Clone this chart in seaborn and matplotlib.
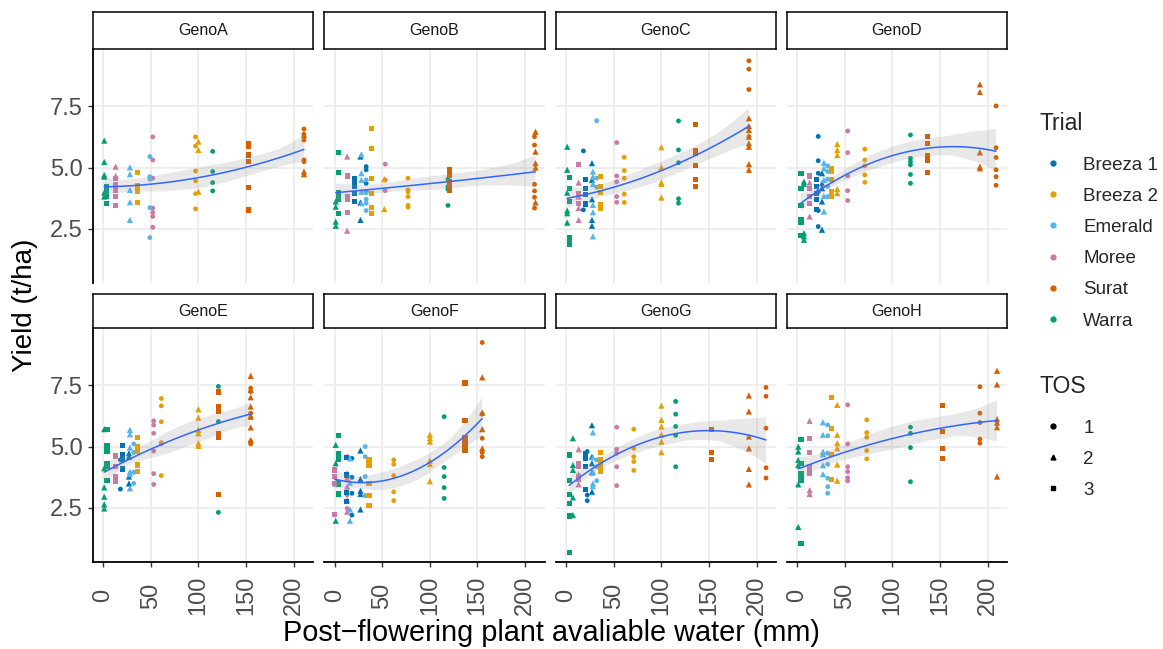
import numpy as np
import pandas as pd
import matplotlib
matplotlib.use("Agg")
import matplotlib.pyplot as plt
import seaborn as sns
from matplotlib.lines import Line2D

# ---------------- data ----------------
genotypes = ["GenoA", "GenoB", "GenoC", "GenoD", "GenoE", "GenoF", "GenoG", "GenoH"]
trials = ["Breeza 1", "Breeza 2", "Emerald", "Moree", "Surat", "Warra"]
tos_levels = [1, 2, 3]
trial_colors = ["#0072B2", "#E69F00", "#56B4E9", "#CC79A7", "#D55E00", "#009E73"]
x_ticks = [0, 50, 100, 150, 200]
y_ticks = [2.5, 5.0, 7.5]
y_tick_labels = ["2.5", "5.0", "7.5"]

# each entry: (trial, TOS, post-flowering water (mm), yields (t/ha))
genoA = [
    ("Warra", 2, 1, [6.10, 5.23, 4.70, 4.63, 3.98, 3.82]),
    ("Warra", 3, 3, [4.23, 4.02, 3.82, 3.55]),
    ("Warra", 1, 115, [5.66, 4.84, 4.39, 4.05]),
    ("Moree", 2, 13, [5.04, 4.66]),
    ("Moree", 3, 13, [4.57, 4.30, 4.09, 3.82, 3.44]),
    ("Moree", 1, 52, [6.25, 5.31, 4.57, 3.35, 3.17, 3.01, 2.57]),
    ("Emerald", 2, 28, [5.01, 4.73, 4.09, 3.59, 2.87]),
    ("Emerald", 1, 49, [5.45, 4.63, 4.53, 3.37, 2.15]),
    ("Breeza 2", 3, 36, [4.80, 4.25, 4.05, 3.58]),
    ("Breeza 2", 1, 97, [6.25, 5.88, 4.86, 4.46, 3.94, 3.32]),
    ("Breeza 2", 2, 100, [6.06, 5.72, 4.02]),
    ("Surat", 3, 153, [5.99, 5.85, 5.51, 5.24, 4.20, 3.27]),
    ("Surat", 1, 211, [6.57, 6.36, 6.12, 5.31, 5.24]),
    ("Surat", 2, 211, [6.33, 4.84, 4.73]),
]
genoB = [
    ("Warra", 3, 4, [5.62, 4.81, 4.00, 3.82, 3.69, 3.12]),
    ("Warra", 2, 1, [3.62, 3.41, 2.80, 2.63]),
    ("Warra", 1, 119, [4.53, 4.23, 4.12, 3.46]),
    ("Moree", 3, 13, [4.66, 3.82, 3.69, 3.18]),
    ("Moree", 2, 13, [5.45, 2.43]),
    ("Moree", 1, 53, [5.14, 4.50, 4.06]),
    ("Breeza 1", 3, 21, [4.57, 4.36, 4.23, 3.96, 3.62]),
    ("Breeza 1", 2, 27, [5.45, 3.58, 2.87]),
    ("Breeza 1", 1, 33, [5.04, 4.91, 4.36, 4.02]),
    ("Emerald", 2, 28, [5.54, 4.77, 4.50, 4.02, 3.55]),
    ("Emerald", 1, 33, [4.50, 3.98, 3.71, 3.55, 3.25]),
    ("Breeza 2", 3, 39, [6.60, 5.79, 4.57, 3.96, 3.39, 3.14]),
    ("Breeza 2", 2, 52, [4.53, 3.31]),
    ("Breeza 2", 1, 77, [4.57, 4.09, 4.02, 3.82, 3.46, 3.39]),
    ("Surat", 3, 121, [4.91, 4.70, 4.43, 4.23, 4.09]),
    ("Surat", 1, 210, [6.26, 5.92, 4.32, 4.05, 3.79, 3.35]),
    ("Surat", 2, 211, [6.46, 5.65, 5.18, 5.00, 3.58]),
]
genoC = [
    ("Warra", 2, 1, [5.85, 4.91, 3.98, 3.25, 3.14, 2.76]),
    ("Warra", 3, 3, [4.61, 4.16, 3.62, 2.13, 2.00, 1.86]),
    ("Warra", 1, 118, [6.90, 5.72, 5.20, 3.73, 3.55]),
    ("Moree", 3, 13, [5.14, 3.96, 3.55]),
    ("Moree", 2, 13, [4.39, 3.82, 3.35, 2.87]),
    ("Moree", 1, 53, [6.02, 4.66, 4.42, 3.82, 3.59]),
    ("Breeza 1", 1, 18, [5.68, 3.28]),
    ("Breeza 1", 3, 20, [4.50, 4.16, 3.89, 3.52]),
    ("Breeza 1", 2, 27, [5.18, 4.50, 3.71, 2.87, 2.63]),
    ("Emerald", 1, 32, [6.91, 4.57, 4.20]),
    ("Emerald", 2, 28, [4.84, 4.63, 4.34, 3.48, 3.18, 2.20]),
    ("Breeza 2", 3, 36, [4.63, 4.23, 4.00, 3.48, 3.35]),
    ("Breeza 2", 1, 61, [5.42, 4.88, 4.57, 3.92, 3.58]),
    ("Breeza 2", 2, 100, [5.83, 5.01, 4.39, 4.34, 3.78]),
    ("Surat", 3, 136, [6.76, 5.68, 5.58, 5.09, 4.50, 4.23]),
    ("Surat", 1, 192, [9.35, 9.01, 8.18, 6.26]),
    ("Surat", 2, 192, [7.01, 6.69, 6.53, 6.26, 5.99, 5.85, 5.14, 4.91]),
]
genoD = [
    ("Warra", 3, 4, [4.77, 4.16, 3.44, 2.87, 2.76, 2.22]),
    ("Warra", 2, 7, [4.43, 4.34, 2.33, 2.20, 2.06]),
    ("Warra", 1, 119, [6.33, 5.38, 5.24, 5.11, 4.72, 4.36]),
    ("Moree", 3, 13, [4.66, 4.16, 3.82, 3.55]),
    ("Moree", 2, 13, [4.39, 3.01]),
    ("Moree", 1, 53, [6.49, 5.61, 4.66, 4.06, 3.66]),
    ("Breeza 1", 3, 20, [4.50, 4.23, 3.96, 3.69, 3.28]),
    ("Breeza 1", 1, 22, [6.27, 5.28, 4.77, 4.02, 3.25, 2.60]),
    ("Breeza 1", 2, 26, [4.77, 4.36, 4.16, 3.62, 2.47]),
    ("Emerald", 2, 28, [5.20, 4.97, 4.50, 3.85, 3.21]),
    ("Emerald", 1, 32, [5.07, 4.84, 4.53, 4.23, 3.82]),
    ("Breeza 2", 2, 42, [5.96, 5.72, 5.51, 4.13, 3.96]),
    ("Breeza 2", 3, 36, [4.97, 4.84, 4.50, 4.02, 3.82]),
    ("Breeza 2", 1, 71, [5.75, 5.31, 5.07, 4.70, 4.40]),
    ("Surat", 3, 137, [6.27, 5.99, 5.47, 5.31, 4.80]),
    ("Surat", 2, 192, [8.39, 8.08, 5.62, 5.04, 4.97]),
    ("Surat", 1, 209, [7.51, 5.81, 5.41, 4.91, 4.63, 4.28]),
]
genoE = [
    ("Warra", 2, 1, [5.71, 4.12, 3.34, 2.96, 2.65, 2.48]),
    ("Warra", 3, 4, [5.68, 5.05, 4.82, 4.32, 4.18, 3.63]),
    ("Warra", 1, 121, [7.45, 6.50, 6.02, 2.32]),
    ("Moree", 3, 13, [4.62, 4.18, 3.78, 3.57]),
    ("Moree", 1, 53, [6.05, 5.88, 5.54, 4.82, 3.90, 3.46]),
    ("Breeza 1", 3, 20, [5.05, 4.69, 4.46, 4.12, 4.07]),
    ("Breeza 1", 1, 18, [4.46, 3.27]),
    ("Breeza 1", 2, 27, [4.73, 4.59, 3.78, 3.50]),
    ("Emerald", 2, 28, [5.68, 5.50, 4.96, 3.98, 3.88, 3.30]),
    ("Emerald", 1, 32, [5.11, 4.76, 3.95, 3.50]),
    ("Breeza 2", 3, 36, [5.38, 5.00, 4.80, 4.25, 3.98]),
    ("Breeza 2", 1, 61, [6.96, 6.66, 6.01, 5.16, 5.11, 3.82]),
    ("Breeza 2", 2, 100, [6.52, 6.18, 5.68, 5.54, 5.14, 5.03]),
    ("Surat", 3, 121, [7.22, 6.63, 6.43, 5.54, 5.38, 3.05]),
    ("Surat", 2, 155, [7.88, 7.31, 7.01, 6.63, 6.22, 5.78, 5.27]),
    ("Surat", 1, 155, [7.38, 7.24, 6.36, 6.18, 5.20, 5.11]),
]
genoF = [
    ("Warra", 3, 4, [5.46, 4.73, 4.59, 4.46, 3.53, 3.44, 3.07]),
    ("Warra", 2, 1, [5.07, 4.32, 3.50, 1.98]),
    ("Warra", 1, 115, [6.22, 4.15, 3.78, 3.33, 2.89]),
    ("Moree", 3, 0, [4.05, 3.78, 3.50, 2.24]),
    ("Moree", 1, 13, [4.59, 3.64, 3.03, 2.48]),
    ("Moree", 2, 13, [3.91, 3.37, 2.82, 2.35]),
    ("Breeza 1", 3, 12, [4.56, 3.84, 3.12, 2.78]),
    ("Breeza 1", 1, 18, [4.52, 3.75, 3.10, 2.21]),
    ("Breeza 1", 2, 27, [4.84, 3.68, 3.20, 3.07, 2.44]),
    ("Emerald", 1, 32, [5.00, 4.59, 3.78, 3.00]),
    ("Emerald", 2, 16, [4.52, 3.53, 2.44, 1.98]),
    ("Breeza 2", 3, 36, [4.46, 4.25, 3.50, 3.00, 2.61]),
    ("Breeza 2", 1, 62, [4.46, 4.28, 3.82, 3.16, 2.80]),
    ("Breeza 2", 2, 100, [5.48, 5.34, 5.20, 4.43, 4.29, 3.59]),
    ("Surat", 3, 137, [7.59, 6.07, 5.37, 5.20, 5.03, 4.86]),
    ("Surat", 1, 155, [9.24, 6.32, 5.34, 4.76, 4.59]),
    ("Surat", 2, 155, [7.82, 6.39, 5.71, 4.93]),
]
genoG = [
    ("Warra", 3, 3, [4.66, 3.63, 3.05, 2.69, 2.17, 0.69]),
    ("Warra", 2, 7, [5.34, 4.25, 4.05, 2.93, 2.21]),
    ("Warra", 1, 115, [6.84, 6.32, 5.82, 5.46, 4.18]),
    ("Moree", 3, 13, [4.29, 4.18, 3.78, 3.67]),
    ("Moree", 2, 13, [4.89, 3.87, 3.46]),
    ("Moree", 1, 53, [5.79, 4.89, 4.73, 4.18, 3.41]),
    ("Breeza 1", 3, 20, [4.73, 4.52, 4.18, 3.26]),
    ("Breeza 1", 1, 22, [4.80, 3.03, 2.80]),
    ("Breeza 1", 2, 27, [5.87, 4.59, 4.32, 3.95, 3.16]),
    ("Emerald", 2, 28, [5.58, 4.56, 3.98, 3.50, 3.39]),
    ("Emerald", 1, 32, [4.46, 4.18, 3.61]),
    ("Breeza 2", 3, 36, [4.77, 4.46, 4.32, 4.12, 3.98]),
    ("Breeza 2", 1, 71, [5.71, 4.93, 4.59, 4.39, 4.03]),
    ("Breeza 2", 2, 100, [6.67, 6.09, 5.82, 5.48, 5.20, 4.77]),
    ("Surat", 3, 153, [5.68, 4.77, 4.48]),
    ("Surat", 2, 192, [7.08, 6.43, 5.41, 4.93, 4.09, 3.46]),
    ("Surat", 1, 210, [7.41, 7.05, 5.75, 4.14, 3.72]),
]
genoH = [
    ("Warra", 2, 1, [5.00, 4.80, 4.46, 4.25, 3.46, 1.73]),
    ("Warra", 3, 4, [5.30, 4.32, 3.88, 3.75, 3.64, 1.05]),
    ("Warra", 1, 119, [5.79, 5.54, 4.96, 3.57]),
    ("Moree", 3, 13, [5.34, 4.77, 4.18, 4.05, 3.91]),
    ("Moree", 2, 13, [6.05, 3.23, 3.07]),
    ("Moree", 1, 53, [6.70, 5.11, 4.18, 3.98, 3.73, 3.60]),
    ("Emerald", 2, 27, [5.99, 5.48, 4.80, 4.69, 4.24, 3.88]),
    ("Emerald", 1, 32, [5.88, 5.44, 4.73, 4.28, 3.71, 3.37, 3.10]),
    ("Breeza 2", 3, 36, [7.01, 5.75, 4.69, 3.67]),
    ("Breeza 2", 2, 42, [6.70, 5.48, 5.14, 4.93, 4.27, 3.61]),
    ("Breeza 2", 1, 73, [6.09, 5.57, 5.38, 4.84, 4.50]),
    ("Surat", 3, 153, [6.69, 5.63, 4.93, 4.52]),
    ("Surat", 1, 192, [7.44, 6.36, 5.98, 5.31, 5.14]),
    ("Surat", 2, 210, [8.09, 7.53, 6.12, 5.98, 5.79, 3.78]),
]
geno_data = [genoA, genoB, genoC, genoD, genoE, genoF, genoG, genoH]


def to_frame(groups):
    rows = []
    for trial, tos, water, ys in groups:
        for y in ys:
            rows.append({"Trial": trial, "TOS": tos, "water": water, "yield": y})
    return pd.DataFrame(rows)


# ---------------- style ----------------
sns.set_theme(style="white")
plt.rcParams["font.family"] = ["Liberation Sans", "DejaVu Sans"]

W, H = 1163, 649
fig = plt.figure(figsize=(W / 100, H / 100), dpi=100)

col_left = [93, 324.5, 556, 787]
pw = 220
row_top = [49, 328]
ph = 234
strip_top = [12, 294]
markers = {1: "o", 2: "^", 3: "s"}
msizes = {1: 12, 2: 20, 3: 14}
grid_col = "#EBEBEB"

for i, g in enumerate(genotypes):
    r, c = divmod(i, 4)
    ax = fig.add_axes([col_left[c] / W, 1 - (row_top[r] + ph) / H, pw / W, ph / H])
    df = to_frame(geno_data[i])
    sns.scatterplot(data=df, x="water", y="yield", hue="Trial", hue_order=trials,
                    palette=trial_colors, style="TOS", style_order=tos_levels,
                    markers=markers, size="TOS", sizes=msizes, linewidth=0,
                    legend=False, ax=ax, zorder=2)
    sns.regplot(data=df, x="water", y="yield", order=2, scatter=False, ci=95,
                n_boot=1000, seed=3, color="#3366FF", line_kws=dict(lw=1.1),
                ax=ax)
    band = ax.collections[-1]
    band.set_facecolor("#999999")
    band.set_alpha(0.22)
    band.set_edgecolor("none")
    band.set_zorder(3)
    ax.lines[-1].set_zorder(4)

    ax.set_xlim(-10.8, 220.5)
    ax.set_ylim(0.3, 9.83)
    ax.set_xticks(x_ticks)
    ax.set_yticks(y_ticks)
    ax.grid(True, color=grid_col, lw=1.2)
    ax.set_axisbelow(True)
    ax.set_xlabel("")
    ax.set_ylabel("")
    for s in ["top", "right"]:
        ax.spines[s].set_visible(False)
    ax.spines["left"].set_visible(c == 0)
    ax.spines["bottom"].set_visible(r == 1)
    for s in ["left", "bottom"]:
        ax.spines[s].set_color("black")
        ax.spines[s].set_linewidth(1.3)

    if r == 1:
        ax.set_xticklabels([str(t) for t in x_ticks], rotation=90, va="center",
                           fontsize=17, color="#4D4D4D")
        ax.tick_params(axis="x", length=3.6, width=1, color="#333333", pad=20.5,
                       bottom=True)
    else:
        ax.tick_params(axis="x", length=0, labelbottom=False)
    if c == 0:
        ax.set_yticklabels(y_tick_labels, fontsize=17, color="#4D4D4D")
        ax.tick_params(axis="y", length=3.6, width=1, color="#333333", pad=4,
                       left=True)
    else:
        ax.tick_params(axis="y", length=0, labelleft=False)

    # facet strip
    sax = fig.add_axes([col_left[c] / W, 1 - row_top[r] / H, pw / W,
                        (row_top[r] - strip_top[r]) / H])
    sax.set_xticks([])
    sax.set_yticks([])
    sax.set_facecolor("white")
    for s in sax.spines.values():
        s.set_visible(True)
        s.set_color("black")
        s.set_linewidth(1.1)
    sax.text(0.5, 0.5, g, ha="center", va="center", fontsize=11.5,
             color="#1A1A1A", transform=sax.transAxes)

fig.text(551 / W, 1 - 633 / H, "Post\u2212flowering plant avaliable water (mm)",
         ha="center", va="center", fontsize=20.8, color="black")
fig.text(25 / W, 1 - 305.5 / H, "Yield (t/ha)", ha="center", va="center",
         rotation=90, fontsize=20, color="black")

h_trial = [Line2D([], [], marker="o", linestyle="", color=col, markersize=3.5)
           for col in trial_colors]
h_tos = [Line2D([], [], marker=markers[t], linestyle="", color="black", markersize=3.5)
         for t in tos_levels]
leg_kw = dict(loc="upper left", frameon=False, fontsize=13.5, title_fontsize=16.5,
              handlelength=1.5, handletextpad=0.86, labelspacing=0.75, borderpad=0,
              borderaxespad=0, alignment="left")
leg1 = fig.legend(h_trial, trials, title="Trial",
                  bbox_to_anchor=(1039 / W, 1 - 112 / H), **leg_kw)
leg2 = fig.legend(h_tos, [str(t) for t in tos_levels], title="TOS",
                  bbox_to_anchor=(1039 / W, 1 - 375 / H), **leg_kw)
for lg in (leg1, leg2):
    lg._legend_box.sep = 15.5

fig.savefig("out.png", dpi=100)
